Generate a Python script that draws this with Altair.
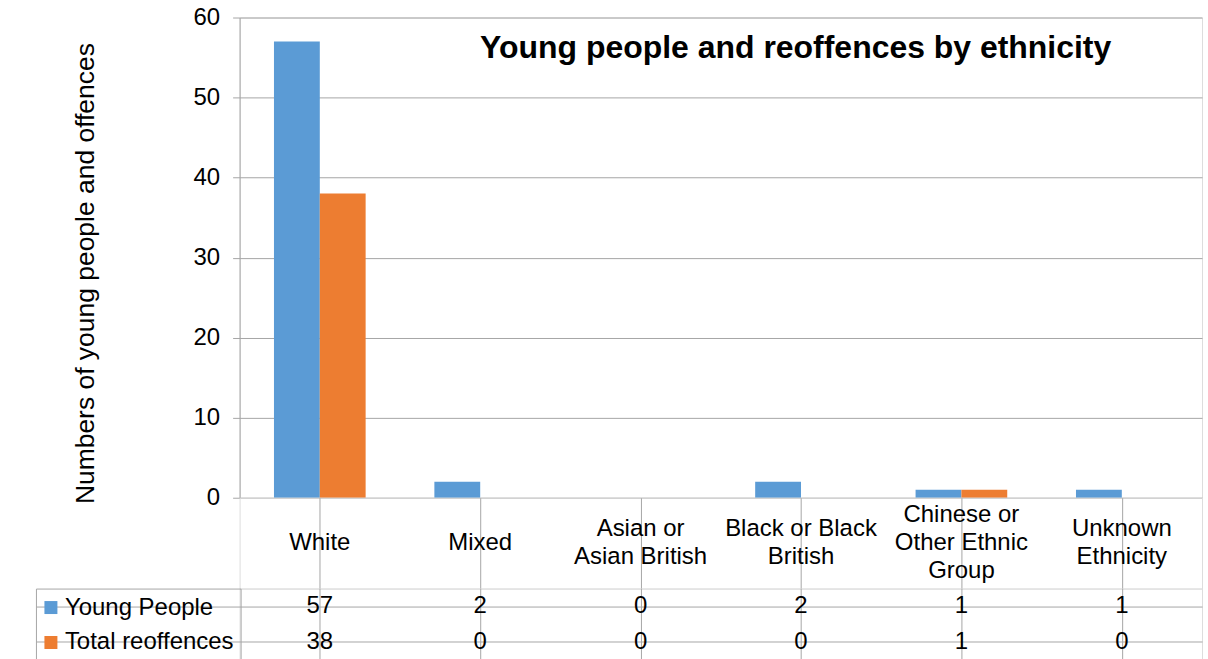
import altair as alt
import pandas as pd

categories = ["White", "Mixed", "Asian or Asian British", "Black or Black British",
              "Chinese or Other Ethnic Group", "Unknown Ethnicity"]
header_labels = ["White", "Mixed", "Asian or\nAsian British", "Black or Black\nBritish",
                 "Chinese or\nOther Ethnic\nGroup", "Unknown\nEthnicity"]
series = ["Young People", "Total reoffences"]
young_people = [57, 2, 0, 2, 1, 1]
total_reoffences = [38, 0, 0, 0, 1, 0]
colors = ["#5b9bd5", "#ed7d31"]
y_ticks = [0, 10, 20, 30, 40, 50, 60]

rows = []
for i, c in enumerate(categories):
    rows.append({"category": c, "series": series[0], "value": young_people[i]})
    rows.append({"category": c, "series": series[1], "value": total_reoffences[i]})
df = pd.DataFrame(rows)
hdr = pd.DataFrame({"category": categories, "label": header_labels})
leg = pd.DataFrame({"series": series})

GRID = "#a6a6a6"
FONT = "Liberation Sans"
FS = 24
W = 964
HDR_H = 91
LINE_H = 28

x_scale = alt.Scale(domain=categories, paddingInner=0, paddingOuter=0)

bars = alt.Chart(df).mark_bar().encode(
    x=alt.X("category:N", scale=x_scale, sort=categories, axis=None),
    xOffset=alt.XOffset("series:N", sort=series,
                        scale=alt.Scale(domain=series, paddingInner=0, paddingOuter=0.75)),
    y=alt.Y("value:Q", scale=alt.Scale(domain=[0, 60], nice=False),
            axis=alt.Axis(values=y_ticks, title="Numbers of young people and offences",
                          titleFontSize=26.5, titleFont=FONT, titleFontWeight="normal",
                          titleColor="black", titleAngle=270, titleBaseline="alphabetic",
                          titleX=-146, titleY=256,
                          labelFontSize=FS, labelFont=FONT, labelColor="black", labelPadding=13,
                          tickSize=7, tickColor=GRID, domainColor=GRID, gridColor=GRID)),
    color=alt.Color("series:N", scale=alt.Scale(domain=series, range=colors), legend=None),
).properties(
    width=W, height=481,
    title=alt.TitleParams("Young people and reoffences by ethnicity", fontSize=32, font=FONT,
                          fontWeight="bold", color="black", anchor="middle", frame="group",
                          baseline="alphabetic", offset=0, dx=75, dy=85),
)

header = alt.Chart(hdr).transform_calculate(
    nl="length(split(datum.label, '\\n'))"
).transform_calculate(
    off=f"(datum.nl - 1) * {LINE_H / 2}"
).mark_text(lineBreak="\n", fontSize=FS, font=FONT, lineHeight=LINE_H,
            baseline="middle", color="black").encode(
    x=alt.X("category:N", scale=x_scale, sort=categories,
            axis=alt.Axis(labels=False, ticks=False, domain=False, grid=True, bandPosition=0,
                          gridColor=GRID, title=None)),
    y=alt.Y("off:Q", scale=alt.Scale(domain=[-HDR_H / 2, HDR_H / 2], nice=False, zero=False),
            axis=None),
    text="label:N",
).properties(width=W, height=HDR_H)

table_text = alt.Chart(df).mark_text(fontSize=FS, font=FONT, color="black").encode(
    x=alt.X("category:N", scale=x_scale, sort=categories,
            axis=alt.Axis(labels=False, ticks=False, domain=False, grid=True, bandPosition=0,
                          gridColor=GRID, title=None)),
    y=alt.Y("series:N", sort=series, scale=alt.Scale(domain=series, paddingInner=0, paddingOuter=0),
            axis=alt.Axis(labels=False, ticks=True, tickSize=204, tickColor=GRID, domain=False,
                          grid=True, gridColor=GRID, bandPosition=0, title=None)),
    text="value:Q",
)
legend_layer = alt.Chart(leg).mark_square().encode(
    color=alt.Color("series:N", scale=alt.Scale(domain=series, range=colors),
                    legend=alt.Legend(orient="none", legendX=-204, legendY=0, title=None,
                                      direction="vertical", symbolType="square", symbolSize=169,
                                      symbolStrokeWidth=0, symbolOpacity=1, symbolOffset=-4,
                                      labelFontSize=FS, labelFont=FONT, labelColor="black",
                                      labelOffset=2, rowPadding=11, padding=7,
                                      strokeColor=GRID, labelLimit=400)),
).transform_filter("false")

table = alt.layer(table_text, legend_layer).properties(width=W, height=71)

chart = alt.vconcat(bars, header, table, spacing=0, bounds="flush").resolve_scale(
    color="independent"
).properties(
    padding={"left": 35, "top": 4, "right": 5, "bottom": 5}
).configure_view(stroke=GRID, strokeWidth=1).configure(background="white")

chart.save("out.html", embed_options={"renderer": "svg", "actions": False})
